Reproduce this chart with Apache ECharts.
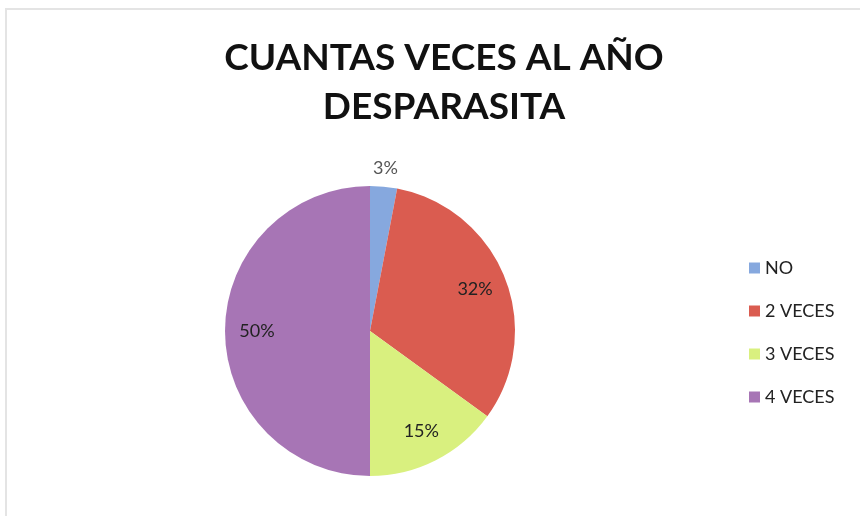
<!DOCTYPE html>
<html>
<head>
<meta charset="utf-8">
<script src="https://cdn.jsdelivr.net/npm/echarts@6/dist/echarts.min.js"></script>
<style>
  html, body { margin: 0; padding: 0; background: #fff; }
  #frame { position: absolute; left: 5px; top: 8px; width: 870px; height: 520px;
           border-left: 2px solid #e4e4e4; border-top: 2px solid #e4e4e4; }
  #chart { position: absolute; left: 0; top: 0; width: 860px; height: 516px; }
</style>
</head>
<body>
<div id="frame"></div>
<div id="chart"></div>
<script>
// Survey answers: how many times per year the animal is dewormed
const categories = ['NO', '2 VECES', '3 VECES', '4 VECES'];
const percentages = [3, 32, 15, 50];
const sliceColors = ['#86a8de', '#da5c50', '#d9f07f', '#a775b5'];
const titleText = 'CUANTAS VECES AL AÑO\nDESPARASITA';

const center = [370, 331];
const radiusPx = 145;
const fontFamily = 'Lato, "Open Sans", sans-serif';

const pieData = categories.map((name, i) => ({
  name, value: percentages[i], itemStyle: { color: sliceColors[i] }
}));

// Labels drawn by transparent overlay rings so they sit near the rim
const innerLabelData = categories.map((name, i) => ({
  name, value: percentages[i],
  label: { show: i !== 0 }
}));
const outerLabelData = categories.map((name, i) => ({
  name, value: percentages[i],
  label: { show: i === 0 }
}));

const chart = echarts.init(document.getElementById('chart'), null, { renderer: 'canvas' });
chart.setOption({
  backgroundColor: 'transparent',
  animation: false,
  title: {
    text: titleText,
    left: 439, top: 29, textAlign: 'center',
    textStyle: { fontFamily, fontWeight: 'bold', fontSize: 37, color: '#111', lineHeight: 49 }
  },
  legend: {
    orient: 'vertical',
    left: 744, top: 254,
    itemWidth: 11, itemHeight: 11, itemGap: 25,
    icon: 'rect',
    textStyle: { fontFamily, fontSize: 18, color: '#222' },
    data: categories
  },
  series: [
    {
      type: 'pie',
      center, radius: [0, radiusPx],
      startAngle: 90, clockwise: true,
      label: { show: false }, labelLine: { show: false },
      silent: true,
      data: pieData
    },
    {
      type: 'pie',
      center, radius: [75, radiusPx],
      startAngle: 90, clockwise: true,
      itemStyle: { color: 'rgba(0,0,0,0)' },
      label: {
        position: 'inside', formatter: '{c}%',
        fontFamily, fontSize: 18, color: '#222'
      },
      labelLine: { show: false },
      silent: true, legendHoverLink: false,
      data: innerLabelData
    },
    {
      type: 'pie',
      center, radius: [radiusPx + 6, radiusPx + 26],
      startAngle: 90, clockwise: true,
      itemStyle: { color: 'rgba(0,0,0,0)' },
      label: {
        position: 'inside', formatter: '{c}%',
        fontFamily, fontSize: 18, color: '#555'
      },
      labelLine: { show: false },
      silent: true, legendHoverLink: false,
      data: outerLabelData
    }
  ]
});
</script>
</body>
</html>
